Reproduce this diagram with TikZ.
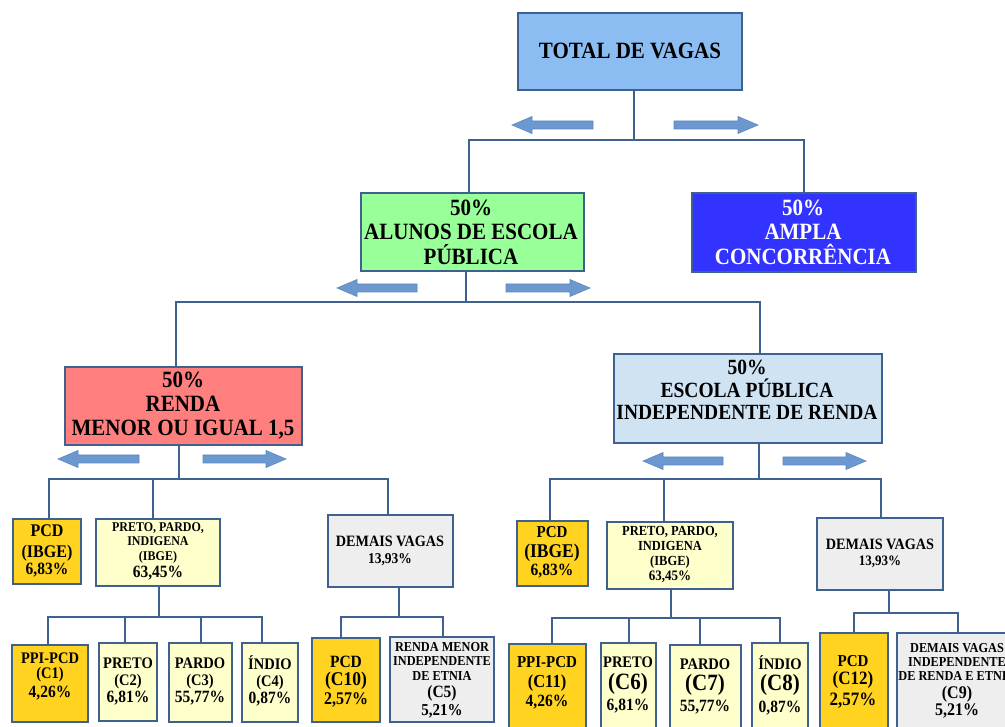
\documentclass[tikz,border=0pt]{standalone}
\usepackage{fontspec}
\setmainfont[FakeStretch=0.9]{Liberation Serif}
\setlength{\lineskiplimit}{-100pt}
\definecolor{lc}{HTML}{3E6190}
\definecolor{arr}{HTML}{6B99CF}
\definecolor{arrb}{HTML}{5B88BF}
\definecolor{ctot}{HTML}{8CBDF2}
\definecolor{cgreen}{HTML}{99FF99}
\definecolor{cblue}{HTML}{3333FF}
\definecolor{cred}{HTML}{FF7F7F}
\definecolor{cesc}{HTML}{CFE3F3}
\definecolor{cgold}{HTML}{FFD320}
\definecolor{cyel}{HTML}{FFFFCC}
\definecolor{cgray}{HTML}{EEEEEE}
\newcommand\fsz[2]{\fontsize{\fpeval{(#1)/0.9}}{#2}\selectfont}
\newcommand\mybox[6]{\node[box,fill=#6,minimum width={(#4)-(#2)},minimum height={(#5)-(#3)}] (#1) at ({((#2)+(#4))/2},{((#3)+(#5))/2}) {};}
\newcommand\myla[3]{\filldraw[arrowc] (#1,#3) -- ({#1+20},{#3-8.5}) -- ({#1+20},{#3-4}) -- (#2,{#3-4}) -- (#2,{#3+4}) -- ({#1+20},{#3+4}) -- ({#1+20},{#3+8.5}) -- cycle;}
\newcommand\myra[3]{\filldraw[arrowc] (#2,#3) -- ({#2-20},{#3-8.5}) -- ({#2-20},{#3-4}) -- (#1,{#3-4}) -- (#1,{#3+4}) -- ({#2-20},{#3+4}) -- ({#2-20},{#3+8.5}) -- cycle;}
\tikzset{
  box/.style={draw=lc,line width=2.6pt,inner sep=0pt,outer sep=0pt,rectangle},
  conn/.style={draw=lc,line width=2.6pt,line join=miter},
  txt/.style={align=center,inner sep=0pt},
  arrowc/.style={fill=arr,draw=arrb,line width=0.6pt,line join=miter}
}
\begin{document}
\begin{tikzpicture}[x=1pt,y=-1pt]
\useasboundingbox (0,0) rectangle (1005,727);
\clip (0,0) rectangle (1005,727);
% boxes
\mybox{tot}{518}{13}{742}{90}{ctot}
\mybox{green}{361}{193}{584}{271}{cgreen}
\mybox{ampla}{692}{193}{916}{272}{cblue}
\mybox{renda}{65}{367}{302}{445}{cred}
\mybox{esc}{614}{354}{882}{443}{cesc}
\mybox{pcdl}{13}{519}{81}{584}{cgold}
\mybox{ppil}{96}{519}{220}{586}{cyel}
\mybox{deml}{328}{515}{453}{587}{cgray}
\mybox{pcdr}{517}{521}{588}{586}{cgold}
\mybox{ppir}{607}{522}{733}{589}{cyel}
\mybox{demr}{817}{518}{943}{590}{cgray}
\mybox{c1}{12}{645}{88}{722}{cgold}
\mybox{c2}{99}{643}{157}{721}{cyel}
\mybox{c3}{169}{643}{232}{722}{cyel}
\mybox{c4}{242}{643}{298}{722}{cyel}
\mybox{c10}{312}{638}{380}{722}{cgold}
\mybox{c5}{390}{637}{494}{722}{cgray}
\mybox{c11}{509}{644}{586}{745}{cgold}
\mybox{c6}{601}{643}{656}{745}{cyel}
\mybox{c7}{670}{645}{741}{745}{cyel}
\mybox{c8}{752}{643}{808}{745}{cyel}
\mybox{c12}{820}{633}{888}{745}{cgold}
\mybox{c9}{897}{633}{1017}{745}{cgray}
% levels
\coordinate (h1) at (0,140);
\coordinate (h2) at (0,302);
\coordinate (h3) at (0,479);
\coordinate (h4) at (0,617);
\coordinate (h5) at (0,618);
\coordinate (h6) at (0,613);
% connectors
\draw[conn] ([xshift=4pt]tot.south) -- ([xshift=4pt]tot.south |- h1);
\draw[conn] ([xshift=-3.5pt]green.north) |- (ampla.north |- h1) -- (ampla.north);
\draw[conn] ([xshift=-6.5pt]green.south) -- ([xshift=-6.5pt]green.south |- h2);
\draw[conn] ([xshift=-7.5pt]renda.north) |- ([xshift=12pt]esc.north |- h2) -- ([xshift=12pt]esc.north);
\draw[conn] ([xshift=-4.5pt]renda.south) -- ([xshift=-4.5pt]renda.south |- h3);
\draw[conn] ([xshift=2pt]pcdl.north) |- ([xshift=-2.5pt]deml.north |- h3) -- ([xshift=-2.5pt]deml.north);
\draw[conn] ([xshift=-5pt]ppil.north) -- ([xshift=-5pt]ppil.north |- h3);
\draw[conn] ([xshift=11pt]esc.south) -- ([xshift=11pt]esc.south |- h3);
\draw[conn] ([xshift=-2.5pt]pcdr.north) |- ([xshift=1pt]demr.north |- h3) -- ([xshift=1pt]demr.north);
\draw[conn] ([xshift=-6pt]ppir.north) -- ([xshift=-6pt]ppir.north |- h3);
\draw[conn] ([xshift=1pt]ppil.south) -- ([xshift=1pt]ppil.south |- h4);
\draw[conn] ([xshift=-2pt]c1.north) |- ([xshift=-8pt]c4.north |- h4) -- ([xshift=-8pt]c4.north);
\draw[conn] ([xshift=-3pt]c2.north) -- ([xshift=-3pt]c2.north |- h4);
\draw[conn] ([xshift=0.5pt]c3.north) -- ([xshift=0.5pt]c3.north |- h4);
\draw[conn] ([xshift=8.5pt]deml.south) -- ([xshift=8.5pt]deml.south |- h4);
\draw[conn] ([xshift=-5pt]c10.north) |- ([xshift=1pt]c5.north |- h4) -- ([xshift=1pt]c5.north);
\draw[conn] ([xshift=1pt]ppir.south) -- ([xshift=1pt]ppir.south |- h5);
\draw[conn] ([xshift=4.5pt]c11.north) |- (c8.north |- h5) -- (c8.north);
\draw[conn] ([xshift=0.5pt]c6.north) -- ([xshift=0.5pt]c6.north |- h5);
\draw[conn] ([xshift=-5.5pt]c7.north) -- ([xshift=-5.5pt]c7.north |- h5);
\draw[conn] ([xshift=9pt]demr.south) -- ([xshift=9pt]demr.south |- h6);
\draw[conn] (c12.north) |- ([xshift=1pt]c9.north |- h6) -- ([xshift=1pt]c9.north);
% arrows
\myla{512}{593}{125} \myra{674}{758}{125}
\myla{337}{417}{288} \myra{506}{590}{288}
\myla{58}{139}{459} \myra{203}{286}{459}
\myla{643}{723}{461} \myra{783}{866}{461}
% texts
\node[txt,font=\bfseries\fsz{21}{24}] (ttot) at (630,51) {TOTAL DE VAGAS};
\node[txt,font=\bfseries\fsz{21}{24.5}] (tgreen) at (471,232) {50\%\\ALUNOS DE ESCOLA\\PÚBLICA};
\node[txt,text=white,font=\bfseries\fsz{21}{24.5}] (tampla) at (803,232) {50\%\\AMPLA\\CONCORRÊNCIA};
\node[txt,font=\bfseries\fsz{21}{24}] (trenda) at (183,406) {50\%\\RENDA\\MENOR OU IGUAL 1,5};
\node[txt,font=\bfseries\fsz{19.5}{22.5}] (tesc) at (747,390) {50\%\\ESCOLA PÚBLICA\\INDEPENDENTE DE RENDA};
\node[txt,font=\bfseries\fsz{16}{19}] (tpcdl) at (47,551) {PCD\\[2pt](IBGE)\\[-2pt]\fsz{15.5}{19}6,83\%};
\node[txt,font=\bfseries\fsz{12}{14.5}] (tppil) at (158,551) {PRETO, PARDO,\\INDIGENA\\(IBGE)\\[2.5pt]\fsz{15.5}{14.5}63,45\%};
\node[txt,font=\bfseries\fsz{14.2}{17}] (tdeml) at (390,550.5) {DEMAIS VAGAS\\\fsz{13.5}{17}13,93\%};
\node[txt,font=\bfseries\fsz{14.5}{17}] (tc1) at (50,676) {PPI-PCD\\[-2pt](C1)\\[2pt]\fsz{15.5}{17}4,26\%};
\node[txt,font=\bfseries\fsz{14.5}{17}] (tc2) at (128,681) {PRETO\\(C2)\\\fsz{15.5}{17}6,81\%};
\node[txt,font=\bfseries\fsz{14.5}{17}] (tc3) at (200,681) {PARDO\\(C3)\\\fsz{15.5}{17}55,77\%};
\node[txt,font=\bfseries\fsz{14.5}{17}] (tc4) at (270,681) {ÍNDIO\\(C4)\\\fsz{15.5}{17}0,87\%};
\node[txt,font=\bfseries\fsz{15.5}{18.5}] (tc10) at (346,681.5) {PCD\\\fsz{17.5}{18.5}(C10)\\\fsz{16}{18.5}2,57\%};
\node[txt,font=\bfseries\fsz{12.3}{14.5}] (tc5) at (442,680) {RENDA MENOR\\INDEPENDENTE\\DE ETNIA\\[2.5pt]\fsz{15.5}{14.5}(C5)\\[3.5pt]\fsz{15}{14.5}5,21\%};
\node[txt,font=\bfseries\fsz{15}{19}] (tpcdr) at (552,552) {PCD\\[1pt]\fsz{17.5}{19}(IBGE)\\[-1pt]\fsz{15.5}{19}6,83\%};
\node[txt,font=\bfseries\fsz{12.5}{15}] (tppir) at (670,555) {PRETO, PARDO,\\INDIGENA\\(IBGE)\\\fsz{13}{15}63,45\%};
\node[txt,font=\bfseries\fsz{14.2}{16}] (tdemr) at (880,553) {DEMAIS VAGAS\\\fsz{13}{16}13,93\%};
\node[txt,font=\bfseries\fsz{15}{19.5}] (tc11) at (547,683) {PPI-PCD\\\fsz{16.5}{19.5}(C11)\\\fsz{15.5}{19.5}4,26\%};
\node[txt,font=\bfseries\fsz{14.5}{21.5}] (tc6) at (628,685) {PRETO\\\fsz{21}{21.5}(C6)\\\fsz{15.5}{21.5}6,81\%};
\node[txt,font=\bfseries\fsz{14.5}{21}] (tc7) at (705,686) {PARDO\\\fsz{21}{21}(C7)\\\fsz{15.5}{21}55,77\%};
\node[txt,font=\bfseries\fsz{14.5}{21.5}] (tc8) at (780,685) {ÍNDIO\\\fsz{21}{21.5}(C8)\\\fsz{15.5}{21.5}0,87\%};
\node[txt,font=\bfseries\fsz{15}{19.5}] (tc12) at (853,682) {PCD\\[-2pt]\fsz{17}{19.5}(C12)\\[2pt]\fsz{17}{19.5}2,57\%};
\node[txt,font=\bfseries\fsz{12.3}{14}] (tc9) at (957,681) {DEMAIS VAGAS\\INDEPENDENTE\\DE RENDA E ETNIA\\[4pt]\fsz{16}{14}(C9)\\[3pt]\fsz{16}{14}5,21\%};
\end{tikzpicture}
\end{document}
